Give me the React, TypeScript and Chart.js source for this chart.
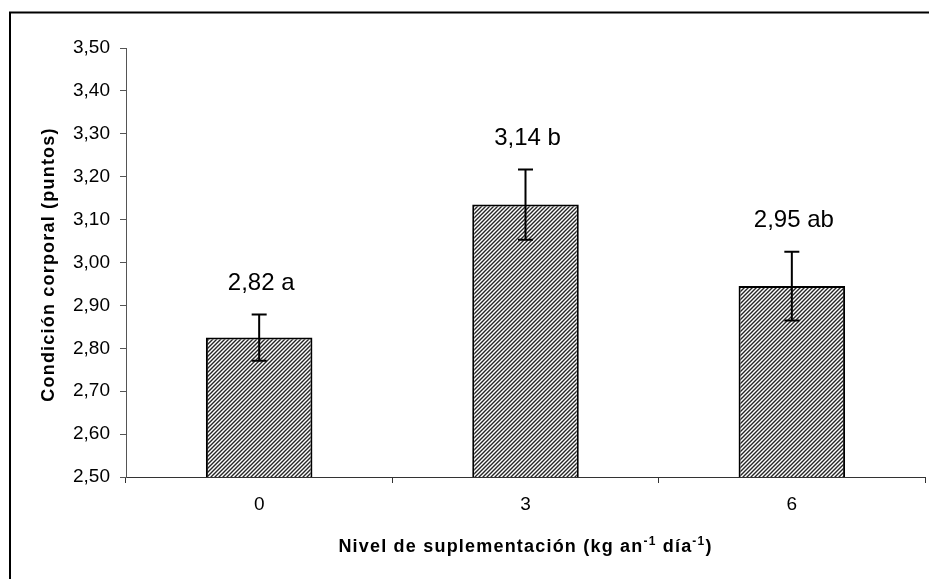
import React, { useEffect, useRef } from "react";
import { Chart, registerables } from "chart.js";

Chart.register(...registerables);

// ---- data ----
const categories = ["0", "3", "6"];
const means = [2.825, 3.135, 2.945];
const errors = [0.054, 0.082, 0.08];
const valueLabels = ["2,82 a", "3,14 b", "2,95 ab"];
const yMin = 2.5;
const yMax = 3.5;
const yStep = 0.1;
const yTitle = "Condición corporal (puntos)";
const xTitleParts = [
  { text: "Nivel de suplementación (kg an", sup: false },
  { text: "-1", sup: true },
  { text: " día", sup: false },
  { text: "-1", sup: true },
  { text: ")", sup: false },
];

const FONT = '"Liberation Sans", Arial, Helvetica, sans-serif';

function makePattern(): CanvasPattern | string {
  const c = document.createElement("canvas");
  c.width = 4;
  c.height = 4;
  const g = c.getContext("2d");
  if (!g) return "#888";
  g.fillStyle = "#ffffff";
  g.fillRect(0, 0, 4, 4);
  g.strokeStyle = "#262626";
  g.lineWidth = 1.4;
  g.beginPath();
  g.moveTo(-1, 5);
  g.lineTo(5, -1);
  g.moveTo(-1, 1);
  g.lineTo(1, -1);
  g.moveTo(3, 5);
  g.lineTo(5, 3);
  g.stroke();
  const p = g.createPattern(c, "repeat");
  return p || "#888";
}

const overlayPlugin = {
  id: "overlay",
  afterDatasetsDraw(chart: any) {
    const ctx = chart.ctx;
    const meta = chart.getDatasetMeta(0);
    const ys = chart.scales.y;
    ctx.save();
    meta.data.forEach((bar: any, i: number) => {
      const x = bar.x;
      const yTop = ys.getPixelForValue(means[i] + errors[i]);
      const yBot = ys.getPixelForValue(means[i] - errors[i]);
      ctx.strokeStyle = "#000";
      ctx.lineWidth = 2;
      ctx.beginPath();
      ctx.moveTo(x, yTop);
      ctx.lineTo(x, yBot);
      ctx.moveTo(x - 7.5, yTop);
      ctx.lineTo(x + 7.5, yTop);
      ctx.moveTo(x - 7.5, yBot);
      ctx.lineTo(x + 7.5, yBot);
      ctx.stroke();
      ctx.fillStyle = "#000";
      ctx.font = `24px ${FONT}`;
      ctx.textAlign = "center";
      ctx.textBaseline = "middle";
      ctx.fillText(valueLabels[i], x + 2, yTop - 31);
    });
    ctx.restore();
  },
  afterDraw(chart: any) {
    const ctx = chart.ctx;
    const area = chart.chartArea;
    ctx.save();
    // outer frame
    ctx.strokeStyle = "#000";
    ctx.lineWidth = 2;
    ctx.strokeRect(10, 12.5, 2000, 2000);

    // y title
    ctx.fillStyle = "#000";
    ctx.font = `bold 18px ${FONT}`;
    (ctx as any).letterSpacing = "1.2px";
    ctx.translate(49, (area.top + area.bottom) / 2 + 2);
    ctx.rotate(-Math.PI / 2);
    ctx.textAlign = "center";
    ctx.textBaseline = "middle";
    ctx.fillText(yTitle, 0, 0);
    ctx.restore();

    // x title with superscripts
    ctx.save();
    ctx.fillStyle = "#000";
    (ctx as any).letterSpacing = "1.2px";
    const mainFont = `bold 18px ${FONT}`;
    const supFont = `bold 12px ${FONT}`;
    let total = 0;
    const widths = xTitleParts.map((p) => {
      ctx.font = p.sup ? supFont : mainFont;
      const w = ctx.measureText(p.text).width;
      total += w;
      return w;
    });
    let x = (area.left + area.right) / 2 - total / 2;
    const baseY = 552;
    ctx.textAlign = "left";
    ctx.textBaseline = "alphabetic";
    xTitleParts.forEach((p, i) => {
      ctx.font = p.sup ? supFont : mainFont;
      ctx.fillText(p.text, x, p.sup ? baseY - 7 : baseY);
      x += widths[i];
    });
    ctx.restore();
  },
};

export default function App() {
  const ref = useRef<HTMLCanvasElement | null>(null);

  useEffect(() => {
    if (!ref.current) return;
    const pattern = makePattern();
    const chart = new Chart(ref.current, {
      type: "bar",
      data: {
        labels: categories,
        datasets: [
          {
            data: means,
            backgroundColor: pattern as any,
            borderColor: "#000",
            borderWidth: 2,
            borderSkipped: false,
            categoryPercentage: 1,
            barPercentage: 0.4,
          },
        ],
      },
      options: {
        responsive: false,
        animation: false,
        devicePixelRatio: 1,
        layout: { padding: { top: 48, right: 4, left: 0, bottom: 0 } },
        plugins: {
          legend: { display: false },
          tooltip: { enabled: false },
        },
        scales: {
          x: {
            grid: {
              display: true,
              drawOnChartArea: false,
              drawTicks: true,
              tickLength: 6,
              color: "#333",
            },
            border: { display: true, color: "#333", width: 1 },
            ticks: {
              color: "#000",
              font: { family: FONT, size: 19 },
              padding: 10,
            },
            afterFit(scale: any) {
              scale.height = 102;
            },
          },
          y: {
            min: yMin,
            max: yMax,
            grid: {
              display: true,
              drawOnChartArea: false,
              drawTicks: true,
              tickLength: 6,
              color: "#555",
            },
            border: { display: true, color: "#555", width: 1 },
            ticks: {
              stepSize: yStep,
              color: "#000",
              font: { family: FONT, size: 19 },
              padding: 10,
              callback: (v: any) => Number(v).toFixed(2).replace(".", ","),
            },
            afterFit(scale: any) {
              scale.width = 126;
            },
          },
        },
      },
      plugins: [overlayPlugin],
    });
    return () => chart.destroy();
  }, []);

  return (
    <div style={{ position: "absolute", left: 0, top: 0, width: 929, height: 579, background: "#fff" }}>
      <canvas ref={ref} width={929} height={579} style={{ display: "block" }} />
    </div>
  );
}
